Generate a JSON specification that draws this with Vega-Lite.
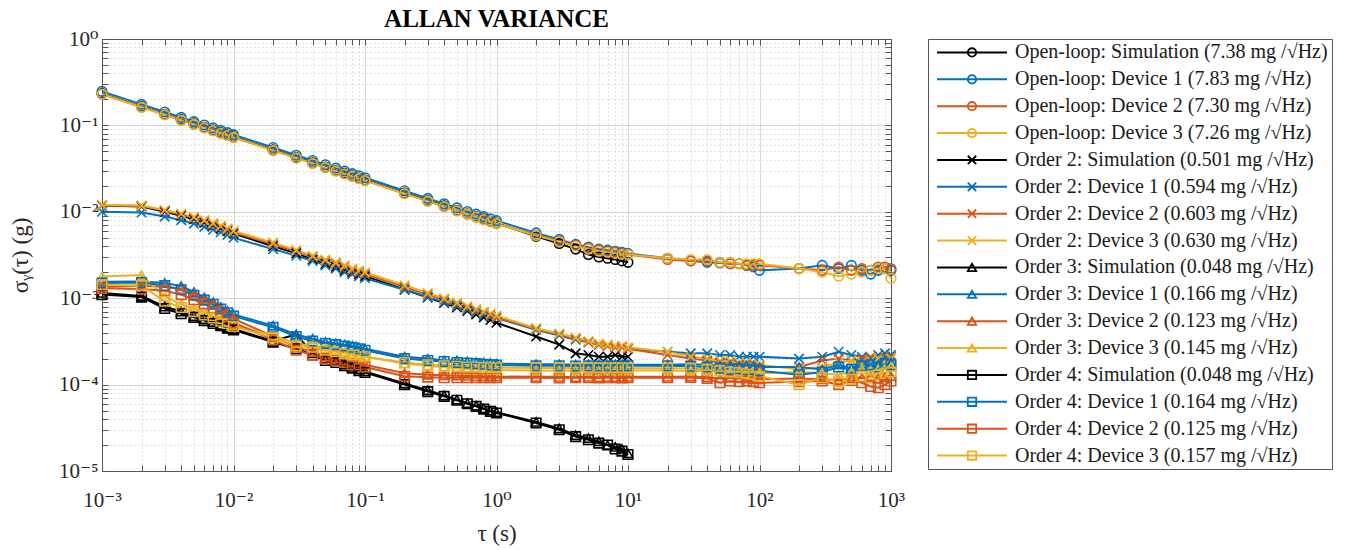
{
  "$schema": "https://vega.github.io/schema/vega-lite/v6.json",
  "background": "white",
  "padding": {"left": 9, "top": 6, "right": 5, "bottom": 5},
  "config": {"font": "'Liberation Serif', 'Times New Roman', 'DejaVu Serif', serif", "view": {"stroke": "#555555", "strokeWidth": 1}},
  "bounds": "flush",
  "spacing": 37,
  "datasets": {
    "allan": [
      {"t":0.001,"a1":0.2334,"a2":0.2476,"a3":0.2308,"a4":0.2296,"b1":0.0118,"b2":0.0100,"b3":0.0119,"b4":0.0120,"c1":0.00115,"c2":0.00155,"c3":0.00135,"c4":0.00178,"d1":0.00110,"d2":0.00150,"d3":0.00130,"d4":0.00143},
      {"t":0.002,"a1":0.1650,"a2":0.1751,"a3":0.1632,"a4":0.1623,"b1":0.0115,"b2":0.0098,"b3":0.0117,"b4":0.0118,"c1":0.00106,"c2":0.00156,"c3":0.00140,"c4":0.00185,"d1":0.00103,"d2":0.00152,"d3":0.00128,"d4":0.00140},
      {"t":0.003,"a1":0.1347,"a2":0.1430,"a3":0.1333,"a4":0.1326,"b1":0.0100,"b2":0.0088,"b3":0.0103,"b4":0.0105,"c1":0.00080,"c2":0.00150,"c3":0.00135,"c4":0.00105,"d1":0.00076,"d2":0.00140,"d3":0.00122,"d4":0.00092},
      {"t":0.004,"a1":0.1167,"a2":0.1238,"a3":0.1154,"a4":0.1148,"b1":0.0090,"b2":0.0080,"b3":0.0093,"b4":0.0095,"c1":0.00070,"c2":0.00138,"c3":0.00128,"c4":0.00085,"d1":0.00066,"d2":0.00125,"d3":0.00110,"d4":0.00078},
      {"t":0.005,"a1":0.1044,"a2":0.1107,"a3":0.1032,"a4":0.1027,"b1":0.0082,"b2":0.0073,"b3":0.0085,"b4":0.0087,"c1":0.00062,"c2":0.00118,"c3":0.00112,"c4":0.00075,"d1":0.00060,"d2":0.00108,"d3":0.00096,"d4":0.00070},
      {"t":0.006,"a1":0.0953,"a2":0.1011,"a3":0.0942,"a4":0.0937,"b1":0.0075,"b2":0.0067,"b3":0.0078,"b4":0.0080,"c1":0.00057,"c2":0.00102,"c3":0.00098,"c4":0.00068,"d1":0.00055,"d2":0.00095,"d3":0.00086,"d4":0.00064},
      {"t":0.007,"a1":0.0882,"a2":0.0936,"a3":0.0872,"a4":0.0868,"b1":0.0069,"b2":0.0062,"b3":0.0072,"b4":0.0074,"c1":0.00053,"c2":0.00090,"c3":0.00086,"c4":0.00062,"d1":0.00051,"d2":0.00085,"d3":0.00077,"d4":0.00059},
      {"t":0.008,"a1":0.0825,"a2":0.0875,"a3":0.0816,"a4":0.0812,"b1":0.0064,"b2":0.0058,"b3":0.0067,"b4":0.0069,"c1":0.00049,"c2":0.00079,"c3":0.00076,"c4":0.00057,"d1":0.00048,"d2":0.00075,"d3":0.00069,"d4":0.00054},
      {"t":0.009,"a1":0.0778,"a2":0.0825,"a3":0.0769,"a4":0.0765,"b1":0.0060,"b2":0.0054,"b3":0.0062,"b4":0.0064,"c1":0.00046,"c2":0.00071,"c3":0.00068,"c4":0.00053,"d1":0.00045,"d2":0.00068,"d3":0.00062,"d4":0.00051},
      {"t":0.01,"a1":0.0738,"a2":0.0783,"a3":0.0730,"a4":0.0726,"b1":0.0056,"b2":0.0050,"b3":0.0058,"b4":0.0060,"c1":0.00044,"c2":0.00065,"c3":0.00058,"c4":0.00049,"d1":0.00043,"d2":0.00062,"d3":0.00052,"d4":0.00047},
      {"t":0.02,"a1":0.0522,"a2":0.0554,"a3":0.0516,"a4":0.0513,"b1":0.0040,"b2":0.0037,"b3":0.0042,"b4":0.0044,"c1":0.00032,"c2":0.00048,"c3":0.00036,"c4":0.00037,"d1":0.00031,"d2":0.00046,"d3":0.00033,"d4":0.00035},
      {"t":0.03,"a1":0.0426,"a2":0.0452,"a3":0.0421,"a4":0.0419,"b1":0.0033,"b2":0.0031,"b3":0.0035,"b4":0.0036,"c1":0.00038,"c2":0.00038,"c3":0.00027,"c4":0.00030,"d1":0.00026,"d2":0.00036,"d3":0.00025,"d4":0.00028},
      {"t":0.04,"a1":0.0369,"a2":0.0392,"a3":0.0365,"a4":0.0363,"b1":0.0028,"b2":0.0027,"b3":0.0030,"b4":0.0031,"c1":0.00023,"c2":0.00034,"c3":0.00024,"c4":0.00028,"d1":0.00022,"d2":0.00032,"d3":0.00022,"d4":0.00027},
      {"t":0.05,"a1":0.0330,"a2":0.0350,"a3":0.0326,"a4":0.0325,"b1":0.0025,"b2":0.0024,"b3":0.0027,"b4":0.0028,"c1":0.00020,"c2":0.00031,"c3":0.00021,"c4":0.00026,"d1":0.00019,"d2":0.00030,"d3":0.00020,"d4":0.00025},
      {"t":0.06,"a1":0.0301,"a2":0.0320,"a3":0.0298,"a4":0.0296,"b1":0.0023,"b2":0.0022,"b3":0.0025,"b4":0.0026,"c1":0.00019,"c2":0.00030,"c3":0.00020,"c4":0.00025,"d1":0.00018,"d2":0.00029,"d3":0.00019,"d4":0.00024},
      {"t":0.07,"a1":0.0279,"a2":0.0296,"a3":0.0276,"a4":0.0274,"b1":0.0021,"b2":0.0020,"b3":0.0023,"b4":0.0024,"c1":0.000170,"c2":0.00029,"c3":0.00019,"c4":0.00024,"d1":0.000165,"d2":0.00028,"d3":0.00018,"d4":0.00023},
      {"t":0.08,"a1":0.0261,"a2":0.0277,"a3":0.0258,"a4":0.0257,"b1":0.0020,"b2":0.0019,"b3":0.0021,"b4":0.0022,"c1":0.000160,"c2":0.00028,"c3":0.00018,"c4":0.00023,"d1":0.000155,"d2":0.00027,"d3":0.00017,"d4":0.00022},
      {"t":0.09,"a1":0.0246,"a2":0.0261,"a3":0.0243,"a4":0.0242,"b1":0.0019,"b2":0.0018,"b3":0.0020,"b4":0.0021,"c1":0.000150,"c2":0.00027,"c3":0.00018,"c4":0.00022,"d1":0.000145,"d2":0.00026,"d3":0.00017,"d4":0.00022},
      {"t":0.1,"a1":0.0233,"a2":0.0248,"a3":0.0231,"a4":0.0230,"b1":0.0018,"b2":0.0017,"b3":0.0019,"b4":0.0020,"c1":0.000142,"c2":0.00026,"c3":0.00017,"c4":0.00021,"d1":0.000138,"d2":0.00025,"d3":0.00016,"d4":0.00021},
      {"t":0.2,"a1":0.0165,"a2":0.0175,"a3":0.0163,"a4":0.0162,"b1":0.00126,"b2":0.00125,"b3":0.00135,"b4":0.00141,"c1":0.000103,"c2":0.00021,"c3":0.000135,"c4":0.000175,"d1":0.000100,"d2":0.00020,"d3":0.000125,"d4":0.000180},
      {"t":0.3,"a1":0.0135,"a2":0.0143,"a3":0.0133,"a4":0.0133,"b1":0.00102,"b2":0.00103,"b3":0.00110,"b4":0.00115,"c1":0.000086,"c2":0.00020,"c3":0.000130,"c4":0.000165,"d1":0.000083,"d2":0.00019,"d3":0.000122,"d4":0.000170},
      {"t":0.4,"a1":0.0117,"a2":0.0124,"a3":0.0115,"a4":0.0115,"b1":0.00088,"b2":0.00090,"b3":0.00096,"b4":0.00100,"c1":0.000075,"c2":0.00019,"c3":0.000128,"c4":0.000160,"d1":0.000073,"d2":0.000185,"d3":0.000120,"d4":0.000165},
      {"t":0.5,"a1":0.0104,"a2":0.0111,"a3":0.0103,"a4":0.0103,"b1":0.00078,"b2":0.00081,"b3":0.00086,"b4":0.00089,"c1":0.000067,"c2":0.00019,"c3":0.000127,"c4":0.000155,"d1":0.000066,"d2":0.000180,"d3":0.000120,"d4":0.000163},
      {"t":0.6,"a1":0.0095,"a2":0.0101,"a3":0.0094,"a4":0.0094,"b1":0.00071,"b2":0.00074,"b3":0.00078,"b4":0.00081,"c1":0.000061,"c2":0.000185,"c3":0.000126,"c4":0.000152,"d1":0.000060,"d2":0.000178,"d3":0.000120,"d4":0.000160},
      {"t":0.7,"a1":0.0088,"a2":0.0094,"a3":0.0087,"a4":0.0087,"b1":0.00065,"b2":0.00069,"b3":0.00072,"b4":0.00075,"c1":0.000057,"c2":0.000182,"c3":0.000125,"c4":0.000150,"d1":0.000056,"d2":0.000175,"d3":0.000120,"d4":0.000160},
      {"t":0.8,"a1":0.0083,"a2":0.0088,"a3":0.0082,"a4":0.0081,"b1":0.00060,"b2":0.00064,"b3":0.00068,"b4":0.00070,"c1":0.000053,"c2":0.000180,"c3":0.000125,"c4":0.000150,"d1":0.000052,"d2":0.000172,"d3":0.000120,"d4":0.000158},
      {"t":0.9,"a1":0.0078,"a2":0.0083,"a3":0.0077,"a4":0.0077,"b1":0.00056,"b2":0.00061,"b3":0.00064,"b4":0.00066,"c1":0.000050,"c2":0.000178,"c3":0.000125,"c4":0.000148,"d1":0.000049,"d2":0.000170,"d3":0.000120,"d4":0.000158},
      {"t":1,"a1":0.0074,"a2":0.0079,"a3":0.0073,"a4":0.0073,"b1":0.00052,"b2":0.00059,"b3":0.00060,"b4":0.00063,"c1":0.000048,"c2":0.000175,"c3":0.000124,"c4":0.000147,"d1":0.000047,"d2":0.000168,"d3":0.000120,"d4":0.000157},
      {"t":2,"a1":0.0052,"a2":0.0057,"a3":0.0054,"a4":0.0053,"b1":0.00036,"b2":0.00043,"b3":0.00044,"b4":0.00045,"c1":0.000037,"c2":0.000172,"c3":0.000123,"c4":0.000146,"d1":0.000036,"d2":0.000165,"d3":0.000120,"d4":0.000156},
      {"t":3,"a1":0.0043,"a2":0.0048,"a3":0.0046,"a4":0.0045,"b1":0.00029,"b2":0.00037,"b3":0.00038,"b4":0.00039,"c1":0.000031,"c2":0.000172,"c3":0.000123,"c4":0.000145,"d1":0.000030,"d2":0.000165,"d3":0.000119,"d4":0.000156},
      {"t":4,"a1":0.0037,"a2":0.0042,"a3":0.0041,"a4":0.0040,"b1":0.00023,"b2":0.00033,"b3":0.00034,"b4":0.00035,"c1":0.000026,"c2":0.000170,"c3":0.000122,"c4":0.000146,"d1":0.000025,"d2":0.000164,"d3":0.000120,"d4":0.000155},
      {"t":5,"a1":0.0032,"a2":0.0039,"a3":0.0038,"a4":0.0037,"b1":0.00022,"b2":0.00031,"b3":0.00031,"b4":0.00032,"c1":0.000024,"c2":0.000172,"c3":0.000123,"c4":0.000145,"d1":0.000023,"d2":0.000165,"d3":0.000120,"d4":0.000156},
      {"t":6,"a1":0.0030,"a2":0.0037,"a3":0.0036,"a4":0.0035,"b1":0.00021,"b2":0.00029,"b3":0.00029,"b4":0.00030,"c1":0.000022,"c2":0.000171,"c3":0.000122,"c4":0.000145,"d1":0.000021,"d2":0.000164,"d3":0.000119,"d4":0.000156},
      {"t":7,"a1":0.0029,"a2":0.0036,"a3":0.0035,"a4":0.0034,"b1":0.00021,"b2":0.00028,"b3":0.00028,"b4":0.00029,"c1":0.000020,"c2":0.000170,"c3":0.000123,"c4":0.000146,"d1":0.000020,"d2":0.000165,"d3":0.000120,"d4":0.000155},
      {"t":8,"a1":0.0028,"a2":0.0035,"a3":0.0034,"a4":0.0033,"b1":0.00022,"b2":0.00027,"b3":0.00027,"b4":0.00028,"c1":0.000019,"c2":0.000172,"c3":0.000122,"c4":0.000145,"d1":0.000018,"d2":0.000164,"d3":0.000120,"d4":0.000156},
      {"t":9,"a1":0.0027,"a2":0.0034,"a3":0.0033,"a4":0.0032,"b1":0.00021,"b2":0.00027,"b3":0.00027,"b4":0.00028,"c1":0.000018,"c2":0.000171,"c3":0.000123,"c4":0.000145,"d1":0.000017,"d2":0.000164,"d3":0.000119,"d4":0.000156},
      {"t":10,"a1":0.0026,"a2":0.0033,"a3":0.0032,"a4":0.0032,"b1":0.00021,"b2":0.00026,"b3":0.00026,"b4":0.00027,"c1":0.000016,"c2":0.000170,"c3":0.000123,"c4":0.000146,"d1":0.0000155,"d2":0.000165,"d3":0.000120,"d4":0.000155},
      {"t":20,"a2":0.0029,"a3":0.0028,"a4":0.0029,"b2":0.00024,"b3":0.00022,"b4":0.00024,"c2":0.000170,"c3":0.000123,"c4":0.000146,"d2":0.000165,"d3":0.000120,"d4":0.000155},
      {"t":30,"a2":0.0027,"a3":0.0027,"a4":0.0028,"b2":0.00023,"b3":0.00020,"b4":0.00021,"c2":0.000172,"c3":0.000124,"c4":0.000144,"d2":0.000163,"d3":0.000121,"d4":0.000154},
      {"t":40,"a2":0.0026,"a3":0.0027,"a4":0.0028,"b2":0.00023,"b3":0.00019,"b4":0.00020,"c2":0.000170,"c3":0.000122,"c4":0.000145,"d2":0.000160,"d3":0.000118,"d4":0.000150},
      {"t":50,"a2":0.00255,"a3":0.0026,"a4":0.0026,"b2":0.00022,"b3":0.00018,"b4":0.00019,"c2":0.000165,"c3":0.000118,"c4":0.000142,"d2":0.000155,"d3":0.000105,"d4":0.000145},
      {"t":60,"a2":0.0025,"a3":0.0025,"a4":0.0026,"b2":0.00022,"b3":0.00018,"b4":0.00019,"c2":0.000168,"c3":0.000120,"c4":0.000140,"d2":0.000150,"d3":0.000110,"d4":0.000140},
      {"t":70,"a2":0.0025,"a3":0.0025,"a4":0.0025,"b2":0.00021,"b3":0.00017,"b4":0.00018,"c2":0.000165,"c3":0.000118,"c4":0.000142,"d2":0.000152,"d3":0.000108,"d4":0.000138},
      {"t":80,"a2":0.0024,"a3":0.0024,"a4":0.0025,"b2":0.00021,"b3":0.00017,"b4":0.00018,"c2":0.000167,"c3":0.000117,"c4":0.000140,"d2":0.000148,"d3":0.000110,"d4":0.000135},
      {"t":90,"a2":0.0023,"a3":0.0024,"a4":0.0025,"b2":0.00021,"b3":0.00017,"b4":0.00018,"c2":0.000165,"c3":0.000116,"c4":0.000138,"d2":0.000150,"d3":0.000108,"d4":0.000132},
      {"t":100,"a2":0.0021,"a3":0.0024,"a4":0.0025,"b2":0.00021,"b3":0.00016,"b4":0.00017,"c2":0.000160,"c3":0.000115,"c4":0.000135,"d2":0.000145,"d3":0.000105,"d4":0.000125},
      {"t":200,"a2":0.0022,"a3":0.0022,"a4":0.0022,"b2":0.00020,"b3":0.00016,"b4":0.00015,"c2":0.000160,"c3":0.000118,"c4":0.000140,"d2":0.000130,"d3":0.000108,"d4":0.000100},
      {"t":300,"a2":0.0024,"a3":0.0021,"a4":0.0020,"b2":0.00021,"b3":0.00019,"b4":0.00016,"c2":0.000150,"c3":0.000115,"c4":0.000135,"d2":0.000140,"d3":0.000110,"d4":0.000120},
      {"t":400,"a2":0.0022,"a3":0.0023,"a4":0.0018,"b2":0.00024,"b3":0.00020,"b4":0.00018,"c2":0.000170,"c3":0.000112,"c4":0.000130,"d2":0.000160,"d3":0.000100,"d4":0.000108},
      {"t":500,"a2":0.0024,"a3":0.0021,"a4":0.0019,"b2":0.00022,"b3":0.00019,"b4":0.00019,"c2":0.000155,"c3":0.000118,"c4":0.000140,"d2":0.000150,"d3":0.000112,"d4":0.000115},
      {"t":600,"a2":0.0021,"a3":0.0022,"a4":0.0020,"b2":0.00021,"b3":0.00020,"b4":0.00018,"c2":0.000175,"c3":0.000120,"c4":0.000150,"d2":0.000165,"d3":0.000105,"d4":0.000125},
      {"t":700,"a2":0.0019,"a3":0.0021,"a4":0.0021,"b2":0.00020,"b3":0.00021,"b4":0.00019,"c2":0.000180,"c3":0.000125,"c4":0.000145,"d2":0.000170,"d3":0.000095,"d4":0.000120},
      {"t":800,"a2":0.0021,"a3":0.0023,"a4":0.0022,"b2":0.00022,"b3":0.00020,"b4":0.00020,"c2":0.000170,"c3":0.000118,"c4":0.000150,"d2":0.000160,"d3":0.000092,"d4":0.000130},
      {"t":900,"a2":0.0022,"a3":0.0023,"a4":0.0022,"b2":0.00023,"b3":0.00021,"b4":0.00019,"c2":0.000190,"c3":0.000122,"c4":0.000155,"d2":0.000175,"d3":0.000100,"d4":0.000135},
      {"t":1000,"a2":0.0021,"a3":0.0022,"a4":0.0017,"b2":0.00022,"b3":0.00021,"b4":0.00020,"c2":0.000180,"c3":0.000125,"c4":0.000160,"d2":0.000170,"d3":0.000110,"d4":0.000140}
    ],
    "leg": [
      {"k":"a1","label":"Open-loop: Simulation (7.38 mg /√Hz)"},
      {"k":"a2","label":"Open-loop: Device 1 (7.83 mg /√Hz)"},
      {"k":"a3","label":"Open-loop: Device 2 (7.30 mg /√Hz)"},
      {"k":"a4","label":"Open-loop: Device 3 (7.26 mg /√Hz)"},
      {"k":"b1","label":"Order 2: Simulation (0.501 mg /√Hz)"},
      {"k":"b2","label":"Order 2: Device 1 (0.594 mg /√Hz)"},
      {"k":"b3","label":"Order 2: Device 2 (0.603 mg /√Hz)"},
      {"k":"b4","label":"Order 2: Device 3 (0.630 mg /√Hz)"},
      {"k":"c1","label":"Order 3: Simulation (0.048 mg /√Hz)"},
      {"k":"c2","label":"Order 3: Device 1 (0.166 mg /√Hz)"},
      {"k":"c3","label":"Order 3: Device 2 (0.123 mg /√Hz)"},
      {"k":"c4","label":"Order 3: Device 3 (0.145 mg /√Hz)"},
      {"k":"d1","label":"Order 4: Simulation (0.048 mg /√Hz)"},
      {"k":"d2","label":"Order 4: Device 1 (0.164 mg /√Hz)"},
      {"k":"d3","label":"Order 4: Device 2 (0.125 mg /√Hz)"},
      {"k":"d4","label":"Order 4: Device 3 (0.157 mg /√Hz)"}
    ]
  },
  "hconcat": [
    {
      "width": 789,
      "height": 432,
      "title": {"text": "ALLAN VARIANCE", "fontSize": 25, "fontWeight": "bold", "anchor": "middle", "offset": -4, "color": "#000000"},
      "data": {"name": "allan"},
      "transform": [
        {"fold": ["a1","a2","a3","a4","b1","b2","b3","b4","c1","c2","c3","c4","d1","d2","d3","d4"], "as": ["k","v"]},
        {"filter": "isValid(datum.v)"}
      ],
      "layer": [
        {
          "mark": {"type": "line", "strokeWidth": 2},
          "encoding": {
            "x": {"field": "t", "type": "quantitative", "scale": {"type": "log", "domain": [0.001, 1000], "nice": false},
              "axis": {
                "orient": "bottom",
                "values": [0.001,0.002,0.003,0.004,0.005,0.006,0.007,0.008,0.009,0.01,0.02,0.03,0.04,0.05,0.06,0.07,0.08,0.09,0.1,0.2,0.3,0.4,0.5,0.6,0.7,0.8,0.9,1,2,3,4,5,6,7,8,9,10,20,30,40,50,60,70,80,90,100,200,300,400,500,600,700,800,900,1000],
                "labelExpr": "abs(log(datum.value)/LN10 - round(log(datum.value)/LN10)) < 0.001 ? '10' + (datum.value < 0.9 ? '⁻' : '') + substring('⁰¹²³⁴⁵', abs(round(log(datum.value)/LN10)), abs(round(log(datum.value)/LN10)) + 1) : ''",
                "labelFontSize": 21, "labelColor": "#262626", "labelPadding": 24, "labelOverlap": false, "labelFlush": false, "labelBound": false,
                "tickSize": -6, "tickColor": "#555555", "tickWidth": 1,
                "domainColor": "#555555",
                "grid": true,
                "gridColor": {"condition": {"test": "abs(log(datum.value)/LN10 - round(log(datum.value)/LN10)) < 0.001", "value": "#d6d6d6"}, "value": "#c2c2c2"},
                "gridDash": {"condition": {"test": "abs(log(datum.value)/LN10 - round(log(datum.value)/LN10)) < 0.001", "value": []}, "value": [1, 3]},
                "title": "τ (s)", "titleFontSize": 23, "titleFontWeight": "normal", "titleColor": "#262626", "titlePadding": 12
              }
            },
            "y": {"field": "v", "type": "quantitative", "scale": {"type": "log", "domain": [0.00001, 1], "nice": false},
              "axis": {
                "orient": "left",
                "values": [1e-5,2e-5,3e-5,4e-5,5e-5,6e-5,7e-5,8e-5,9e-5,1e-4,2e-4,3e-4,4e-4,5e-4,6e-4,7e-4,8e-4,9e-4,0.001,0.002,0.003,0.004,0.005,0.006,0.007,0.008,0.009,0.01,0.02,0.03,0.04,0.05,0.06,0.07,0.08,0.09,0.1,0.2,0.3,0.4,0.5,0.6,0.7,0.8,0.9,1],
                "labelExpr": "abs(log(datum.value)/LN10 - round(log(datum.value)/LN10)) < 0.001 ? '10' + (datum.value < 0.9 ? '⁻' : '') + substring('⁰¹²³⁴⁵', abs(round(log(datum.value)/LN10)), abs(round(log(datum.value)/LN10)) + 1) : ''",
                "labelFontSize": 21, "labelColor": "#262626", "labelPadding": 10, "labelOverlap": false, "labelFlush": false, "labelBound": false,
                "tickSize": -6, "tickColor": "#555555", "tickWidth": 1,
                "domainColor": "#555555",
                "grid": true,
                "gridColor": {"condition": {"test": "abs(log(datum.value)/LN10 - round(log(datum.value)/LN10)) < 0.001", "value": "#d6d6d6"}, "value": "#c2c2c2"},
                "gridDash": {"condition": {"test": "abs(log(datum.value)/LN10 - round(log(datum.value)/LN10)) < 0.001", "value": []}, "value": [1, 3]},
                "title": "σᵧ(τ) (g)", "titleFontSize": 23, "titleFontWeight": "normal", "titleColor": "#262626", "titlePadding": 26
              }
            },
            "color": {"field": "k", "type": "nominal", "legend": null,
              "scale": {"domain": ["a1","a2","a3","a4","b1","b2","b3","b4","c1","c2","c3","c4","d1","d2","d3","d4"],
                        "range": ["#000000","#0072BD","#D95319","#EDB120","#000000","#0072BD","#D95319","#EDB120","#000000","#0072BD","#D95319","#EDB120","#000000","#0072BD","#D95319","#EDB120"]}}
          }
        },
        {
          "mark": {"type": "point", "filled": false, "strokeWidth": 1.6, "size": 90, "opacity": 1},
          "encoding": {
            "x": {"field": "t", "type": "quantitative", "scale": {"type": "log", "domain": [0.001, 1000], "nice": false}, "axis": null},
            "y": {"field": "v", "type": "quantitative", "scale": {"type": "log", "domain": [0.00001, 1], "nice": false}, "axis": null},
            "color": {"field": "k", "type": "nominal", "legend": null,
              "scale": {"domain": ["a1","a2","a3","a4","b1","b2","b3","b4","c1","c2","c3","c4","d1","d2","d3","d4"],
                        "range": ["#000000","#0072BD","#D95319","#EDB120","#000000","#0072BD","#D95319","#EDB120","#000000","#0072BD","#D95319","#EDB120","#000000","#0072BD","#D95319","#EDB120"]}},
            "shape": {"field": "k", "type": "nominal", "legend": null,
              "scale": {"domain": ["a1","a2","a3","a4","b1","b2","b3","b4","c1","c2","c3","c4","d1","d2","d3","d4"],
                        "range": ["circle","circle","circle","circle","M-1,-1L1,1M-1,1L1,-1","M-1,-1L1,1M-1,1L1,-1","M-1,-1L1,1M-1,1L1,-1","M-1,-1L1,1M-1,1L1,-1","triangle-up","triangle-up","triangle-up","triangle-up","square","square","square","square"]}}
          }
        },
        {
          "mark": {"type": "point", "opacity": 0},
          "encoding": {
            "x": {"field": "t", "type": "quantitative", "scale": {"type": "log", "domain": [0.001, 1000], "nice": false},
              "axis": {"orient": "top", "values": [0.001,0.002,0.003,0.004,0.005,0.006,0.007,0.008,0.009,0.01,0.02,0.03,0.04,0.05,0.06,0.07,0.08,0.09,0.1,0.2,0.3,0.4,0.5,0.6,0.7,0.8,0.9,1,2,3,4,5,6,7,8,9,10,20,30,40,50,60,70,80,90,100,200,300,400,500,600,700,800,900,1000], "labels": false, "grid": false, "tickSize": -6, "tickColor": "#555555", "domainColor": "#555555", "title": null}},
            "y": {"field": "v", "type": "quantitative", "scale": {"type": "log", "domain": [0.00001, 1], "nice": false},
              "axis": {"orient": "right", "values": [1e-5,2e-5,3e-5,4e-5,5e-5,6e-5,7e-5,8e-5,9e-5,1e-4,2e-4,3e-4,4e-4,5e-4,6e-4,7e-4,8e-4,9e-4,0.001,0.002,0.003,0.004,0.005,0.006,0.007,0.008,0.009,0.01,0.02,0.03,0.04,0.05,0.06,0.07,0.08,0.09,0.1,0.2,0.3,0.4,0.5,0.6,0.7,0.8,0.9,1], "labels": false, "grid": false, "tickSize": -6, "tickColor": "#555555", "domainColor": "#555555", "title": null}}
          }
        }
      ],
      "resolve": {"axis": {"x": "independent", "y": "independent"}}
    },
    {
      "width": 404,
      "height": 430,
      "data": {"name": "leg"},
      "encoding": {
        "y": {"field": "k", "type": "nominal", "sort": null, "axis": null, "scale": {"type": "point", "padding": 0.5}}
      },
      "layer": [
        {
          "mark": {"type": "rule", "strokeWidth": 2},
          "encoding": {
            "x": {"datum": 9, "type": "quantitative", "scale": {"domain": [0, 404], "nice": false, "zero": false}, "axis": null},
            "x2": {"datum": 79},
            "color": {"field": "k", "type": "nominal", "legend": null,
              "scale": {"domain": ["a1","a2","a3","a4","b1","b2","b3","b4","c1","c2","c3","c4","d1","d2","d3","d4"],
                        "range": ["#000000","#0072BD","#D95319","#EDB120","#000000","#0072BD","#D95319","#EDB120","#000000","#0072BD","#D95319","#EDB120","#000000","#0072BD","#D95319","#EDB120"]}}
          }
        },
        {
          "mark": {"type": "point", "filled": false, "strokeWidth": 1.8, "size": 70, "opacity": 1},
          "encoding": {
            "x": {"datum": 44, "type": "quantitative", "scale": {"domain": [0, 404], "nice": false, "zero": false}, "axis": null},
            "color": {"field": "k", "type": "nominal", "legend": null,
              "scale": {"domain": ["a1","a2","a3","a4","b1","b2","b3","b4","c1","c2","c3","c4","d1","d2","d3","d4"],
                        "range": ["#000000","#0072BD","#D95319","#EDB120","#000000","#0072BD","#D95319","#EDB120","#000000","#0072BD","#D95319","#EDB120","#000000","#0072BD","#D95319","#EDB120"]}},
            "shape": {"field": "k", "type": "nominal", "legend": null,
              "scale": {"domain": ["a1","a2","a3","a4","b1","b2","b3","b4","c1","c2","c3","c4","d1","d2","d3","d4"],
                        "range": ["circle","circle","circle","circle","M-1,-1L1,1M-1,1L1,-1","M-1,-1L1,1M-1,1L1,-1","M-1,-1L1,1M-1,1L1,-1","M-1,-1L1,1M-1,1L1,-1","triangle-up","triangle-up","triangle-up","triangle-up","square","square","square","square"]}}
          }
        },
        {
          "mark": {"type": "text", "align": "left", "baseline": "middle", "fontSize": 20, "color": "#1a1a1a"},
          "encoding": {
            "x": {"datum": 87, "type": "quantitative", "scale": {"domain": [0, 404], "nice": false, "zero": false}, "axis": null},
            "text": {"field": "label"}
          }
        }
      ]
    }
  ]
}
